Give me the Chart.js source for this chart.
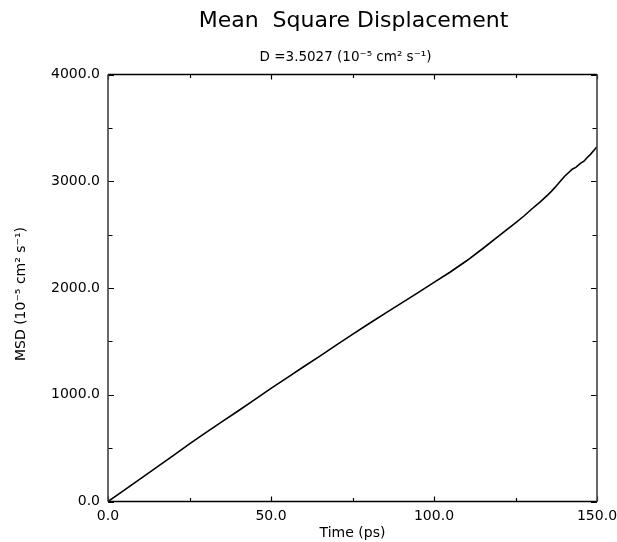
<!DOCTYPE html>
<html>
<head>
<meta charset="utf-8">
<script src="https://cdn.jsdelivr.net/npm/chart.js@4"></script>
<style>
  html, body { margin: 0; padding: 0; background: #fff; }
  #wrap { width: 617px; height: 542px; }
</style>
</head>
<body>
<div id="wrap"><canvas id="msdChart" width="617" height="542"></canvas></div>
<script>
// MSD trajectory (time in ps, MSD in 10^-5 cm^2 s^-1)
const times = [0, 5, 10, 15, 20, 25, 30, 35, 40, 45, 50, 55, 60, 65, 70, 75, 80, 85, 90, 95, 100,
    105, 110, 115, 120, 125, 127.5, 130, 132.5, 135, 136, 137.5, 140, 142.5, 143.5, 145, 146, 147, 148, 149, 150];
const msd = [0, 107, 214, 322, 430, 540, 645, 748, 850, 955, 1060, 1160, 1262, 1362, 1465, 1565, 1665, 1762, 1858, 1955, 2052,
    2150, 2255, 2370, 2490, 2610, 2672, 2740, 2805, 2875, 2905, 2955, 3045, 3115, 3130, 3170, 3188, 3222, 3252, 3288, 3322];

const xMax = 150;
const yMax = 4000;
const xMinorStep = 25;
const yMinorStep = 500;
const xLabelStep = 50;
const yLabelStep = 1000;

const titleText = 'Mean  Square Displacement';
const subtitleText = 'D =3.5027 (10\u207B\u2075 cm\u00B2 s\u207B\u00B9)';
const xTitle = 'Time (ps)';
const yTitle = 'MSD (10\u207B\u2075 cm\u00B2 s\u207B\u00B9)';

const points = times.map((t, i) => ({ x: t, y: msd[i] }));

// headings and the rotated y caption, placed over the plot box
const headings = {
    id: 'headings',
    afterDraw(chart) {
        const { ctx, chartArea: a } = chart;
        ctx.save();
        ctx.fillStyle = '#000';
        ctx.textAlign = 'center';
        ctx.textBaseline = 'middle';
        ctx.font = '22px "DejaVu Sans"';
        ctx.fillText(titleText, (a.left + a.right) / 2 + 1, 21);
        ctx.font = '13.5px "DejaVu Sans"';
        ctx.fillText(subtitleText, (a.left + a.right) / 2 - 7, 57);
        ctx.translate(21, (a.top + a.bottom) / 2 + 6);
        ctx.rotate(-Math.PI / 2);
        ctx.font = '14px "DejaVu Sans"';
        ctx.fillText(yTitle, 0, 0);
        ctx.restore();
    }
};

// box around the plot with inward ticks on every side
const frameTicks = {
    id: 'frameTicks',
    afterDatasetsDraw(chart) {
        const { ctx, chartArea: a, scales } = chart;
        const xs = scales.x, ys = scales.y;
        ctx.save();
        ctx.lineWidth = 1.2;
        ctx.strokeStyle = '#000';
        xs.ticks.forEach(t => {
            const px = Math.round(xs.getPixelForValue(t.value)) + 0.5;
            const len = t.value % xLabelStep === 0 ? 5 : 3.5;
            ctx.beginPath();
            ctx.moveTo(px, a.bottom); ctx.lineTo(px, a.bottom - len);
            ctx.moveTo(px, a.top); ctx.lineTo(px, a.top + len);
            ctx.stroke();
        });
        ys.ticks.forEach(t => {
            const py = Math.round(ys.getPixelForValue(t.value)) + 0.5;
            const len = t.value % yLabelStep === 0 ? 6 : 4.5;
            ctx.beginPath();
            ctx.moveTo(a.left, py); ctx.lineTo(a.left + len, py);
            ctx.moveTo(a.right, py); ctx.lineTo(a.right - len, py);
            ctx.stroke();
        });
        ctx.lineWidth = 1.6;
        ctx.strokeStyle = '#000';
        ctx.beginPath();
        ctx.moveTo(a.left, a.top); ctx.lineTo(a.right, a.top);
        ctx.moveTo(a.left, a.bottom); ctx.lineTo(a.right, a.bottom);
        ctx.stroke();
        ctx.strokeStyle = '#444';
        ctx.beginPath();
        ctx.moveTo(a.left, a.top); ctx.lineTo(a.left, a.bottom);
        ctx.moveTo(a.right, a.top); ctx.lineTo(a.right, a.bottom);
        ctx.stroke();
        ctx.restore();
    }
};

const fixX = scale => {
    scale.height = 40.5;
    scale.paddingLeft = 0; scale.paddingRight = 0;
    scale.paddingTop = 0; scale.paddingBottom = 0;
};
const fixY = scale => {
    scale.width = 108;
    scale.paddingLeft = 0; scale.paddingRight = 0;
    scale.paddingTop = 0; scale.paddingBottom = 0;
};

const ctx = document.getElementById('msdChart').getContext('2d');
const msdChart = new Chart(ctx, {
    type: 'scatter',
    data: {
        datasets: [{
            data: points,
            showLine: true,
            borderColor: '#000',
            borderWidth: 1.6,
            pointRadius: 0,
            tension: 0,
        }]
    },
    options: {
        responsive: false,
        animation: false,
        layout: { padding: { left: 0, right: 20, top: 74.5, bottom: 0 } },
        plugins: {
            legend: { display: false },
            tooltip: { enabled: false },
            title: { display: false },
            subtitle: { display: false }
        },
        scales: {
            x: {
                type: 'linear',
                min: 0,
                max: xMax,
                afterFit: fixX,
                grid: { display: false, drawTicks: false },
                border: { display: false },
                ticks: {
                    stepSize: xMinorStep,
                    autoSkip: false,
                    maxRotation: 0,
                    padding: 6,
                    color: '#000',
                    font: { family: 'DejaVu Sans', size: 14 },
                    callback: v => (v % xLabelStep === 0 ? v.toFixed(1) : '')
                },
                title: {
                    display: true,
                    text: xTitle,
                    color: '#000',
                    font: { family: 'DejaVu Sans', size: 14 },
                    padding: 0
                }
            },
            y: {
                type: 'linear',
                min: 0,
                max: yMax,
                afterFit: fixY,
                grid: { display: false, drawTicks: false },
                border: { display: false },
                ticks: {
                    stepSize: yMinorStep,
                    autoSkip: false,
                    padding: 8,
                    color: '#000',
                    font: { family: 'DejaVu Sans', size: 14 },
                    callback: v => (v % yLabelStep === 0 ? v.toFixed(1) : '')
                },
                title: { display: false }
            }
        }
    },
    plugins: [frameTicks, headings]
});
</script>
</body>
</html>
